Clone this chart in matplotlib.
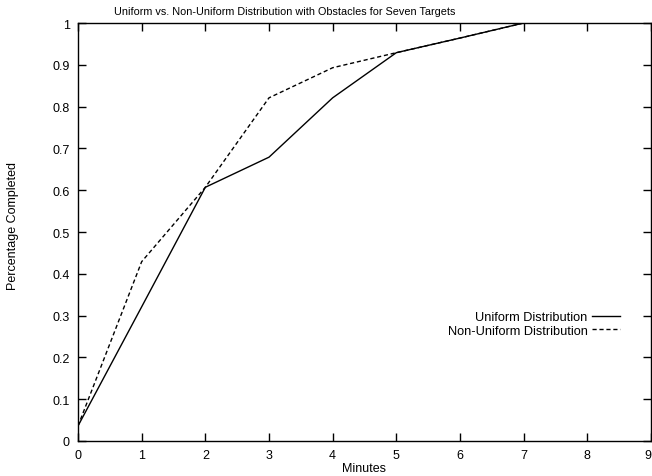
import matplotlib
matplotlib.use('Agg')
import matplotlib.pyplot as plt

minutes = [0, 1, 2, 3, 4, 5, 6, 7]
uniform = [0.036, 0.321, 0.607, 0.679, 0.821, 0.929, 0.964, 1.0]
non_uniform = [0.036, 0.429, 0.607, 0.821, 0.893, 0.929, 0.964, 1.0]

x_ticks = list(range(0, 10))
y_ticks = [0, 0.1, 0.2, 0.3, 0.4, 0.5, 0.6, 0.7, 0.8, 0.9, 1]
y_tick_labels = ['0', '0.1', '0.2', '0.3', '0.4', '0.5', '0.6', '0.7', '0.8', '0.9', '1']

plt.rcParams['font.family'] = ['Liberation Sans', 'DejaVu Sans']
plt.rcParams['font.size'] = 9

W, H = 652, 477
fig = plt.figure(figsize=(W / 100, H / 100), dpi=100)
ax = fig.add_axes([78 / W, 1 - 442 / H, (651 - 78) / W, (442 - 24) / H])

ax.plot(minutes, uniform, color='black', lw=1.0, label='Uniform Distribution')
ax.plot(minutes, non_uniform, color='black', lw=1.0, dashes=(3, 2),
        label='Non-Uniform Distribution')

ax.set_xlim(0, 9)
ax.set_ylim(0, 1)
ax.set_xticks(x_ticks)
ax.set_yticks(y_ticks)
ax.set_yticklabels(y_tick_labels)
ax.tick_params(direction='in', length=6, width=1, top=True, right=True,
               labelsize=9, pad=6)
# keep the last x label inside the picture
ax.get_xticklabels()[-1].set_horizontalalignment('right')
for s in ax.spines.values():
    s.set_linewidth(1.0)

ax.legend(loc='center right', bbox_to_anchor=(620 / W, 1 - 325 / H),
          bbox_transform=fig.transFigure, frameon=False, markerfirst=False,
          handlelength=2.2, handletextpad=0.35, labelspacing=0.15,
          borderpad=0, borderaxespad=0, fontsize=9.2)

fig.text(285 / W, 1 - 12 / H, 'Uniform vs. Non-Uniform Distribution with Obstacles for Seven Targets',
         ha='center', va='center', fontsize=7.8)
fig.text(364 / W, 1 - 469 / H, 'Minutes', ha='center', va='center', fontsize=9)
fig.text(13 / W, 1 - 226 / H, 'Percentage Completed', ha='center', va='center',
         rotation=90, fontsize=9)

fig.savefig('out.png', dpi=100)
